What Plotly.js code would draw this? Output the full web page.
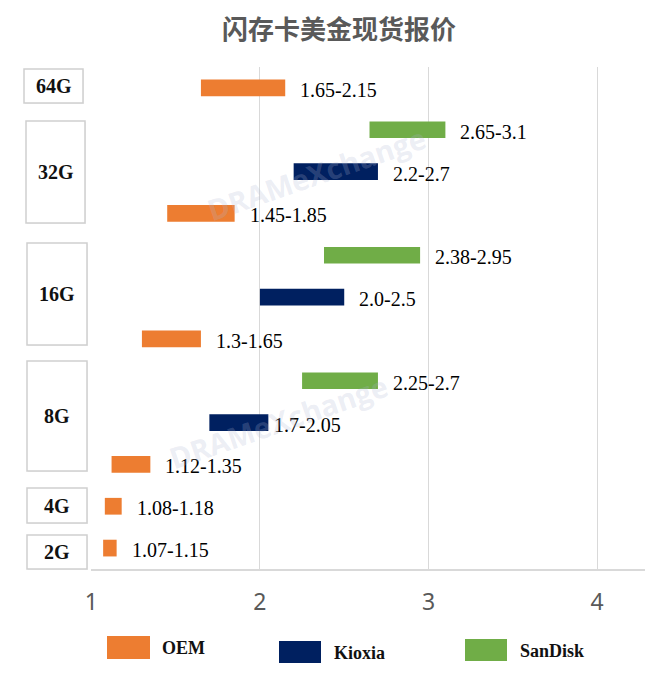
<!DOCTYPE html>
<html>
<head>
<meta charset="utf-8">
<script src="https://cdn.plot.ly/plotly-3.0.1.min.js"></script>
<style>html,body{margin:0;padding:0;background:#fff;}#chart{width:645px;height:678px;}</style>
</head>
<body>
<div id="chart"></div>
<script>
// ---- data ----
const rowOrder = ['2G-OEM','4G-OEM','8G-OEM','8G-Kioxia','8G-SanDisk','16G-OEM','16G-Kioxia','16G-SanDisk','32G-OEM','32G-Kioxia','32G-SanDisk','64G-OEM'];
const seriesNames = ['OEM','Kioxia','SanDisk'];
const seriesColors = ['#ED7D31','#002060','#70AD47'];

const oemRows = ['2G-OEM','4G-OEM','8G-OEM','16G-OEM','32G-OEM','64G-OEM'];
const oemLow  = [1.07, 1.08, 1.12, 1.3, 1.45, 1.65];
const oemHigh = [1.15, 1.18, 1.35, 1.65, 1.85, 2.15];
const oemLabels = ['1.07-1.15','1.08-1.18','1.12-1.35','1.3-1.65','1.45-1.85','1.65-2.15'];

const kioxiaRows = ['8G-Kioxia','16G-Kioxia','32G-Kioxia'];
const kioxiaLow  = [1.7, 2.0, 2.2];
const kioxiaHigh = [2.05, 2.5, 2.7];
const kioxiaLabels = ['1.7-2.05','2.0-2.5','2.2-2.7'];

const sandiskRows = ['8G-SanDisk','16G-SanDisk','32G-SanDisk'];
const sandiskLow  = [2.25, 2.38, 2.65];
const sandiskHigh = [2.7, 2.95, 3.1];
const sandiskLabels = ['2.25-2.7','2.38-2.95','2.65-3.1'];

const groupLabels = ['64G','32G','16G','8G','4G','2G'];
const xTicks = [1, 2, 3, 4];

// ---- layout helpers (pixel -> paper) ----
const W = 645, H = 678, L = 91, R = 0, T = 67, B = 109;
const pw = W - L - R, ph = H - T - B;
const px = v => (v - L) / pw;
const py = v => (H - B - v) / ph;

const series = [
  {rows: oemRows, low: oemLow, high: oemHigh, labels: oemLabels},
  {rows: kioxiaRows, low: kioxiaLow, high: kioxiaHigh, labels: kioxiaLabels},
  {rows: sandiskRows, low: sandiskLow, high: sandiskHigh, labels: sandiskLabels}
];

const traces = series.map((s, i) => ({
  type: 'bar', orientation: 'h', name: seriesNames[i],
  y: s.rows, base: s.low, x: s.high.map((h, k) => h - s.low[k]),
  width: 0.4, marker: {color: seriesColors[i]}, hoverinfo: 'skip'
}));

const annotations = [];
const labelFont = {family: 'Liberation Serif', size: 20, color: '#000'};
series.forEach(s => {
  s.rows.forEach((r, k) => {
    annotations.push({
      x: s.high[k], y: r, xref: 'x', yref: 'y', text: s.labels[k],
      showarrow: false, xanchor: 'left', yanchor: 'middle',
      xshift: s.labels[k] === '1.7-2.05' ? 4 : 13, yshift: -2, font: labelFont
    });
  });
});

// group boxes (pixel geometry)
const boxes = [
  [24, 83, 69, 103],
  [26, 85, 121, 223],
  [27, 87, 243, 345],
  [27, 87, 361, 471],
  [27, 87, 488, 523],
  [27, 87, 535, 569]
];
const shapes = [];
boxes.forEach((b, i) => {
  shapes.push({type: 'rect', xref: 'paper', yref: 'paper',
    x0: px(b[0]+1), x1: px(b[1]+1), y0: py(b[2]+1), y1: py(b[3]+1),
    line: {width: 0}, fillcolor: 'rgba(0,0,0,0.05)', layer: 'above'});
  shapes.push({type: 'rect', xref: 'paper', yref: 'paper',
    x0: px(b[0]), x1: px(b[1]), y0: py(b[2]), y1: py(b[3]),
    line: {color: '#d0d0d0', width: 1.5}, fillcolor: '#fff', layer: 'above'});
  annotations.push({xref: 'paper', yref: 'paper', x: px((b[0]+b[1])/2), y: py((b[2]+b[3])/2),
    text: '<b>' + groupLabels[i] + '</b>', showarrow: false, xanchor: 'center', yanchor: 'middle',
    font: {family: 'Liberation Serif', size: 20, color: '#111'}});
});

// custom legend
const legendRects = [[107, 150, 636, 659], [279, 321, 641, 663], [465, 507, 639, 661]];
const legendText = [[160, 648], [332, 653], [518, 651]];
seriesNames.forEach((n, i) => {
  const r = legendRects[i];
  shapes.push({type: 'rect', xref: 'paper', yref: 'paper',
    x0: px(r[0]), x1: px(r[1]), y0: py(r[2]), y1: py(r[3]),
    line: {width: 0}, fillcolor: seriesColors[i]});
  annotations.push({xref: 'paper', yref: 'paper', x: px(legendText[i][0]), y: py(legendText[i][1]),
    text: '<b>' + n + '</b>', showarrow: false, xanchor: 'left', yanchor: 'middle',
    font: {family: 'Liberation Serif', size: 18, color: '#111'}});
});

// watermarks
[[316, 173], [278, 421]].forEach(p => {
  annotations.push({xref: 'paper', yref: 'paper', x: px(p[0]), y: py(p[1]),
    text: '<b>DRAMeXchange</b>', showarrow: false, textangle: -19,
    xanchor: 'center', yanchor: 'middle',
    font: {family: 'Open Sans', size: 29, color: 'rgba(175,182,210,0.24)'}});
});

const layout = {
  width: W, height: H,
  margin: {l: L, r: R, t: T, b: B, pad: 0},
  paper_bgcolor: '#fff', plot_bgcolor: '#fff',
  showlegend: false, barmode: 'overlay',
  title: {text: '<b>闪存卡美金现货报价</b>', x: 339 / W, xanchor: 'center', y: 1 - 30 / H, yanchor: 'middle',
    xref: 'container', yref: 'container',
    font: {family: 'Noto Sans CJK SC', size: 26, color: '#595959'}},
  xaxis: {range: [0.998, 1 + (W - L) / 168.7], tickvals: xTicks, ticktext: xTicks.map(String),
    showgrid: true, gridcolor: '#d9d9d9', gridwidth: 1, zeroline: false,
    showline: true, linecolor: '#d9d9d9', linewidth: 1.5, ticks: '',
    ticklabelstandoff: 12,
    tickfont: {family: 'Noto Sans', size: 23, color: '#595959'}, fixedrange: true},
  yaxis: {type: 'category', categoryorder: 'array', categoryarray: rowOrder,
    range: [-0.5, rowOrder.length - 0.5], showticklabels: false, showgrid: false,
    zeroline: false, showline: false, ticks: '', fixedrange: true},
  shapes: shapes, annotations: annotations
};

Plotly.newPlot('chart', traces, layout, {displayModeBar: false, staticPlot: true});
</script>
</body>
</html>
